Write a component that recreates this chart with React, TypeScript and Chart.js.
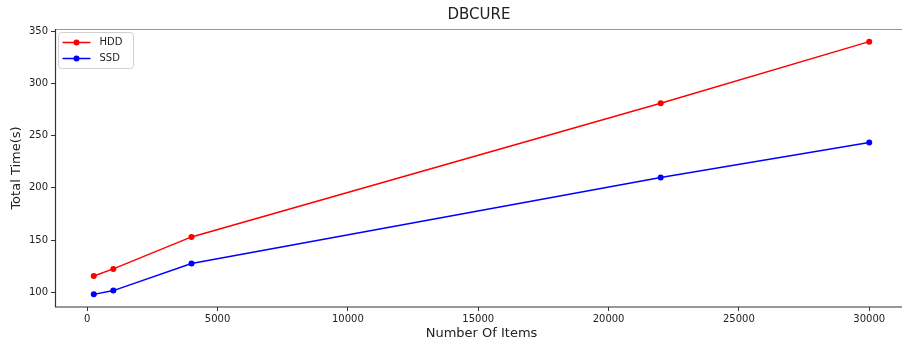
import React, { useEffect, useRef } from "react";
import { Chart, registerables } from "chart.js";

Chart.register(...registerables);

// Measured run times for the DBCURE clustering job
const itemCounts = [250, 1000, 4000, 22000, 30000];
const hddTimes = [115.6, 122.4, 153, 281, 340];
const ssdTimes = [98, 101.6, 127.6, 210, 243.5];
const seriesNames = ["HDD", "SSD"];
const seriesColors = ["#ff0000", "#0000ff"];

const xTickValues = [0, 5000, 10000, 15000, 20000, 25000, 30000];
const yTickValues = [100, 150, 200, 250, 300, 350];

const chartTitle = "DBCURE";
const xAxisTitle = "Number Of Items";
const yAxisTitle = "Total Time(s)";

const FONT = "'DejaVu Sans', sans-serif";
const INK = "#222";

// 5% padding on both ends of a data range, like pyplot's autoscale margins
function paddedRange(values: number[]) {
  const lo = Math.min(...values);
  const hi = Math.max(...values);
  const pad = (hi - lo) * 0.05;
  return { min: lo - pad, max: hi + pad };
}

const framePlugin = {
  id: "frameAndLegend",
  afterDraw(chart: Chart) {
    const { ctx, chartArea } = chart;
    const { left, right, top, bottom } = chartArea;
    ctx.save();

    // axes frame (the right edge runs past the visible area)
    ctx.lineWidth = 1.2;
    ctx.strokeStyle = "#999";
    ctx.beginPath();
    ctx.moveTo(left, top + 0.5);
    ctx.lineTo(right, top + 0.5);
    ctx.stroke();
    ctx.strokeStyle = "#333";
    ctx.beginPath();
    ctx.moveTo(left + 0.5, top);
    ctx.lineTo(left + 0.5, bottom);
    ctx.lineTo(right, bottom);
    ctx.stroke();

    // title
    ctx.fillStyle = INK;
    ctx.font = `15px ${FONT}`;
    ctx.textAlign = "center";
    ctx.textBaseline = "middle";
    ctx.fillText(chartTitle, 479, 15);

    // legend box
    const bx = left + 3.5;
    const by = top + 3.5;
    const bw = 75;
    const bh = 36;
    const r = 3;
    ctx.fillStyle = "rgba(255,255,255,0.8)";
    ctx.strokeStyle = "#d0d0d0";
    ctx.lineWidth = 1;
    ctx.beginPath();
    ctx.moveTo(bx + r, by);
    ctx.lineTo(bx + bw - r, by);
    ctx.arcTo(bx + bw, by, bx + bw, by + r, r);
    ctx.lineTo(bx + bw, by + bh - r);
    ctx.arcTo(bx + bw, by + bh, bx + bw - r, by + bh, r);
    ctx.lineTo(bx + r, by + bh);
    ctx.arcTo(bx, by + bh, bx, by + bh - r, r);
    ctx.lineTo(bx, by + r);
    ctx.arcTo(bx, by, bx + r, by, r);
    ctx.closePath();
    ctx.fill();
    ctx.stroke();

    seriesNames.forEach((name, i) => {
      const y = by + 10 + i * 16;
      const color = seriesColors[i];
      ctx.strokeStyle = color;
      ctx.lineWidth = 1.5;
      ctx.beginPath();
      ctx.moveTo(bx + 4, y);
      ctx.lineTo(bx + 32, y);
      ctx.stroke();
      ctx.fillStyle = color;
      ctx.beginPath();
      ctx.arc(bx + 18, y, 3, 0, Math.PI * 2);
      ctx.fill();
      ctx.fillStyle = INK;
      ctx.font = `10px ${FONT}`;
      ctx.textAlign = "left";
      ctx.textBaseline = "middle";
      ctx.fillText(name, bx + 41, y);
    });

    ctx.restore();
  },
};

export default function App() {
  const canvasRef = useRef<HTMLCanvasElement | null>(null);

  useEffect(() => {
    document.body.style.margin = "0";
    document.body.style.overflow = "hidden";
    const canvas = canvasRef.current;
    if (!canvas) return;

    const xRange = paddedRange(itemCounts);
    const yRange = paddedRange([...hddTimes, ...ssdTimes]);

    const tickFont = { family: FONT, size: 10 };
    const titleFont = { family: FONT, size: 13 };

    const chart = new Chart(canvas, {
      type: "line",
      data: {
        datasets: [hddTimes, ssdTimes].map((values, i) => ({
          label: seriesNames[i],
          data: itemCounts.map((x, j) => ({ x, y: values[j] })),
          borderColor: seriesColors[i],
          backgroundColor: seriesColors[i],
          pointBackgroundColor: seriesColors[i],
          pointBorderColor: seriesColors[i],
          borderWidth: 1.5,
          pointRadius: 3,
          pointBorderWidth: 0,
          tension: 0,
          fill: false,
        })),
      },
      options: {
        animation: false,
        responsive: false,
        devicePixelRatio: 1,
        layout: { padding: { top: 29, right: 4, left: 0, bottom: 0 } },
        plugins: {
          legend: { display: false },
          title: { display: false },
          tooltip: { enabled: false },
        },
        scales: {
          x: {
            type: "linear",
            min: xRange.min,
            max: xRange.max,
            afterBuildTicks: (scale: any) => {
              scale.ticks = xTickValues.map((value) => ({ value }));
            },
            afterFit: (scale: any) => {
              scale.height = 40;
            },
            ticks: {
              callback: (v: any) => String(v),
              font: tickFont,
              color: INK,
              padding: 2,
              maxRotation: 0,
              autoSkip: false,
            },
            grid: {
              display: true,
              drawOnChartArea: false,
              drawTicks: true,
              tickLength: 4,
              color: "#333",
            },
            border: { display: false },
            title: {
              display: true,
              text: xAxisTitle,
              font: titleFont,
              color: INK,
              padding: { top: 0, bottom: 6 },
            },
          },
          y: {
            type: "linear",
            min: yRange.min,
            max: yRange.max,
            afterBuildTicks: (scale: any) => {
              scale.ticks = yTickValues.map((value) => ({ value }));
            },
            afterFit: (scale: any) => {
              scale.width = 55;
            },
            ticks: {
              callback: (v: any) => String(v),
              font: tickFont,
              color: INK,
              padding: 3,
              autoSkip: false,
            },
            grid: {
              display: true,
              drawOnChartArea: false,
              drawTicks: true,
              tickLength: 4,
              color: "#333",
            },
            border: { display: false },
            title: {
              display: true,
              text: yAxisTitle,
              font: titleFont,
              color: INK,
              padding: { top: 9, bottom: 0 },
            },
          },
        },
      },
      plugins: [framePlugin],
    });

    return () => chart.destroy();
  }, []);

  return (
    <div
      style={{
        position: "relative",
        width: 902,
        height: 347,
        overflow: "hidden",
        background: "#fff",
      }}
    >
      <canvas
        ref={canvasRef}
        width={912}
        height={347}
        style={{ display: "block", position: "absolute", left: 0, top: 0 }}
      />
    </div>
  );
}
